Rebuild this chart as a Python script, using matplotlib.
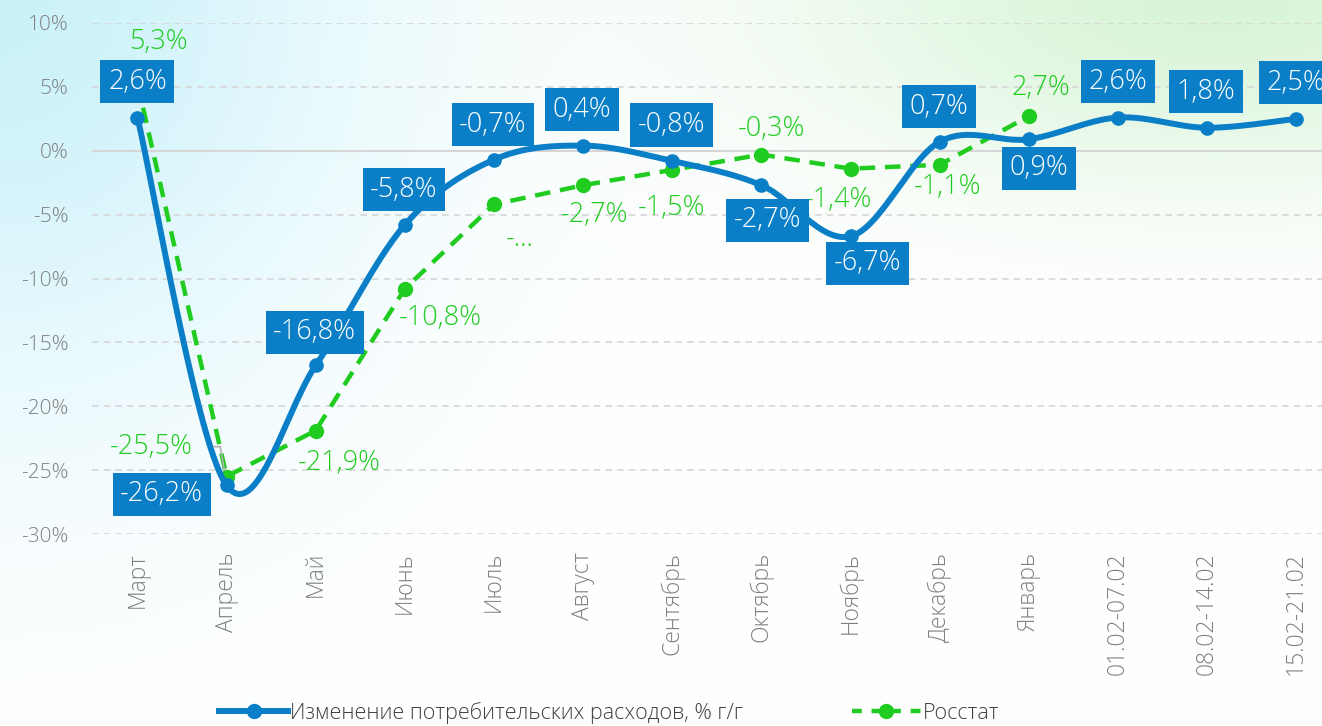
import matplotlib
matplotlib.use('Agg')
import matplotlib.pyplot as plt
import numpy as np
from matplotlib.lines import Line2D

plt.rcParams['font.family'] = ['Open Sans', 'DejaVu Sans']
plt.rcParams['font.weight'] = 'light'

# data
categories = ['Март', 'Апрель', 'Май', 'Июнь', 'Июль', 'Август', 'Сентябрь',
              'Октябрь', 'Ноябрь', 'Декабрь', 'Январь', '01.02-07.02',
              '08.02-14.02', '15.02-21.02']
spending = [2.6, -26.2, -16.8, -5.8, -0.7, 0.4, -0.8, -2.7, -6.7, 0.7, 0.9, 2.6, 1.8, 2.5]
rosstat = [5.3, -25.5, -21.9, -10.8, -4.2, -2.7, -1.5, -0.3, -1.4, -1.1, 2.7]
rosstat_labels = ['5,3%', '-25,5%', '-21,9%', '-10,8%', '-...', '-2,7%', '-1,5%',
                  '-0,3%', '-1,4%', '-1,1%', '2,7%']
yticks = [10, 5, 0, -5, -10, -15, -20, -25, -30]

spend_name = 'Изменение потребительских расходов, % г/г'
rosstat_name = 'Росстат'

BLUE = '#0a7fc8'
GREEN = '#1fcc1f'
GRAY = '#808080'

# label offsets in pixels (dx, dy), y up
blue_off = [(0, 36), (-65, -9), (-1, 33), (-1, 35), (-1, 35), (-1, 36), (-1, 36),
            (6, -35), (17, -27), (-1, 35), (10, -29), (0, 36), (-1, 36), (0, 36)]
green_off = [(21, 41), (-75, 30), (24, -32), (35, -29), (26, -35), (11, -30),
             (-1, -38), (10, 26), (-12, -31), (8, -22), (12, 28)]


def fmt(v):
    return ('%.1f%%' % v).replace('.', ',')


def smooth(xs, ys, n=30):
    # bezier smoothing through the points (like a spreadsheet "smoothed line")
    P = np.column_stack([xs, ys]).astype(float)
    out = [P[0]]
    for i in range(len(P) - 1):
        p0 = P[i - 1] if i > 0 else P[i]
        p1, p2 = P[i], P[i + 1]
        p3 = P[i + 2] if i + 2 < len(P) else P[i + 1]
        c1 = p1 + (p2 - p0) / 6
        c2 = p2 - (p3 - p1) / 6
        t = np.linspace(0, 1, n)[1:, None]
        seg = (1 - t) ** 3 * p1 + 3 * (1 - t) ** 2 * t * c1 + 3 * (1 - t) * t ** 2 * c2 + t ** 3 * p2
        out.extend(seg)
    out = np.array(out)
    return out[:, 0], out[:, 1]


fig = plt.figure(figsize=(13.22, 7.26), dpi=100)

# background gradient
H, W = 363, 661
yy, xx = np.mgrid[0:H, 0:W]
xx = xx / W
yy = yy / H
bg = np.ones((H, W, 3))
w_cyan = np.exp(-((xx / 0.28) ** 2 + (yy / 0.55) ** 2))
w_green = np.exp(-(((xx - 0.92) / 0.32) ** 2 + (yy / 0.25) ** 2))
cyan = np.array([0.80, 0.95, 0.98])
green = np.array([0.85, 0.96, 0.85])
bg = bg * (1 - w_cyan[..., None]) + cyan * w_cyan[..., None]
bg = bg * (1 - w_green[..., None]) + green * w_green[..., None]
bax = fig.add_axes([0, 0, 1, 1], zorder=-10)
bax.imshow(bg, aspect='auto', extent=[0, 1, 0, 1], interpolation='bilinear')
bax.axis('off')

ax = fig.add_axes([92 / 1322, 192 / 726, 1 - 92 / 1322, (534 - 23) / 726])
ax.patch.set_alpha(0)

x = np.arange(len(categories))
xr = np.arange(len(rosstat))

sx, sy = smooth(x, spending)
ax.plot(sx, sy, color=BLUE, lw=4.3, solid_capstyle='round', zorder=4)
ax.plot(x, spending, 'o', color=BLUE, ms=9.5, zorder=4)
ax.plot(xr, rosstat, color=GREEN, lw=3.2, ls=(0, (3.5, 2.2)), marker='o', ms=10, zorder=3)

ax.set_xlim(-0.51, 13.29)
ax.set_ylim(-30, 10)
ax.set_yticks(yticks)
ax.set_yticklabels(['%d%%' % v for v in yticks])
ax.set_xticks(x)
ax.set_xticklabels(categories, rotation=90, va='top', ha='center')
ax.tick_params(axis='y', length=0, labelsize=15, colors=GRAY, pad=17)
ax.tick_params(axis='x', length=0, labelsize=16.5, colors=GRAY, pad=13)
for s in ax.spines.values():
    s.set_visible(False)
ax.grid(axis='y', color='#d6d6d6', ls=(0, (4, 3)), lw=1.2)
ax.axhline(0, color='#d6d6d6', lw=1.5, zorder=1)

k = 0.72  # px -> pt
for i, v in enumerate(spending):
    dx, dy = blue_off[i]
    ax.annotate(fmt(v), (x[i], v), xytext=(dx * k, dy * k), textcoords='offset points',
                ha='center', va='center', color='white', fontsize=19.5, zorder=8,
                bbox=dict(boxstyle='square,pad=0.28', fc=BLUE, ec='none'))

for i, v in enumerate(rosstat):
    dx, dy = green_off[i]
    ax.annotate(rosstat_labels[i], (xr[i], v), xytext=(dx * k, dy * k), textcoords='offset points',
                ha='center', va='center', color=GREEN, fontsize=19.5, zorder=6)

# small leader line for the April Rosstat label
ax.annotate('', (xr[1] - 0.02, rosstat[1] + 0.3), xytext=(-14 * k, 26 * k), textcoords='offset points',
            arrowprops=dict(arrowstyle='-', color='#b0b0b0', lw=1.2,
                            connectionstyle='angle,angleA=0,angleB=100,rad=0'), zorder=5)

handles = [Line2D([], [], color=BLUE, lw=4.3, marker='o', ms=10),
           Line2D([], [], color=GREEN, lw=3.2, ls=(0, (2.2, 2.2)), marker='o', ms=10)]
leg = fig.legend(handles, [spend_name, rosstat_name], loc='center', bbox_to_anchor=(0.461, 0.018),
                 ncol=2, frameon=False, fontsize=15.5, handlelength=3.2, handletextpad=0.1,
                 columnspacing=5.05, borderaxespad=0)
for t in leg.get_texts():
    t.set_color('#404040')

fig.savefig('out.png', dpi=100)
